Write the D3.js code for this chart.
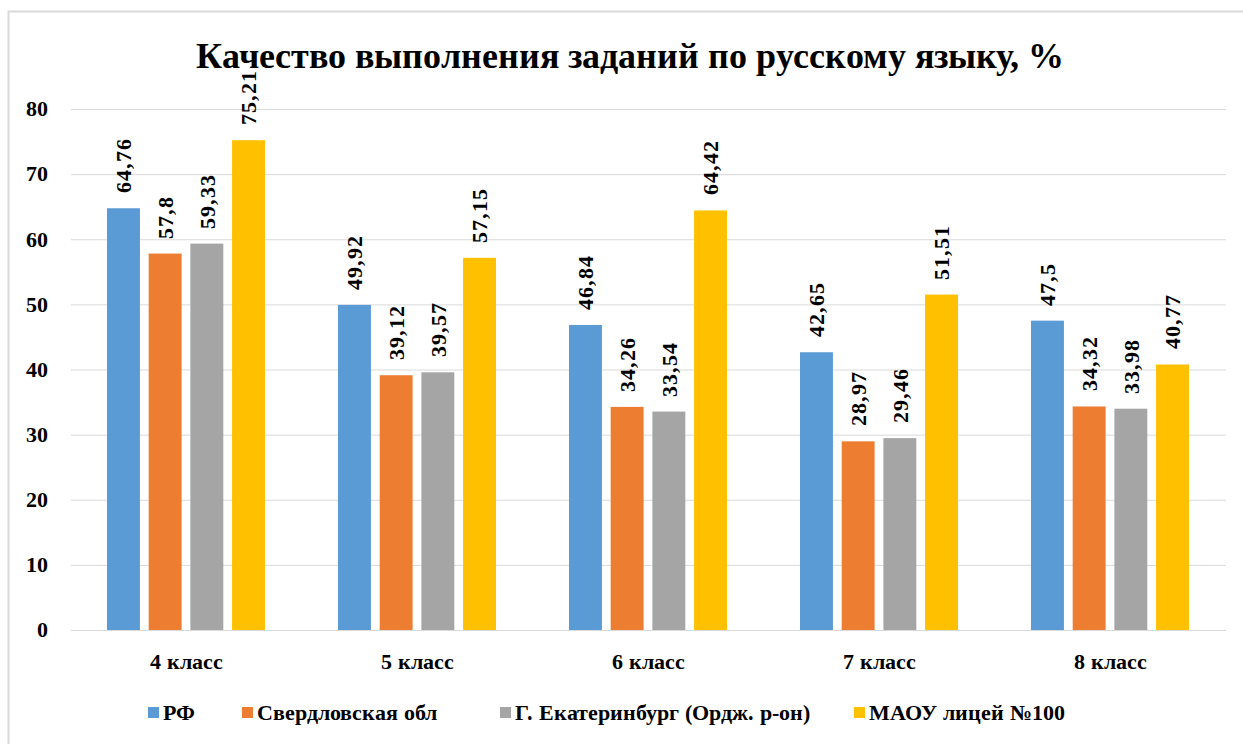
<!DOCTYPE html>
<html>
<head>
<meta charset="utf-8">
<script src="https://cdn.jsdelivr.net/npm/d3@7"></script>
<style>
  @font-face {
    font-family: 'ChartSerif';
    src: local('Liberation Serif Bold'), local('LiberationSerif-Bold'), local('Times New Roman Bold');
    font-weight: bold;
  }
  body { margin: 0; }
</style>
</head>
<body>
<svg id="chart" width="1243" height="744"></svg>
<script>
const categories = ['4 класс', '5 класс', '6 класс', '7 класс', '8 класс']
const seriesNames = ['РФ', 'Свердловская обл', 'Г. Екатеринбург (Ордж. р-он)', 'МАОУ лицей №100']
const rf = [64.76, 49.92, 46.84, 42.65, 47.5]
const sverd = [57.8, 39.12, 34.26, 28.97, 34.32]
const ekb = [59.33, 39.57, 33.54, 29.46, 33.98]
const licey = [75.21, 57.15, 64.42, 51.51, 40.77]
const yTicks = [0, 10, 20, 30, 40, 50, 60, 70, 80]
const colors = ['#5b9bd5', '#ed7d31', '#a5a5a5', '#ffc000']

const seriesValues = [rf, sverd, ekb, licey]
const FONT = 'ChartSerif, Liberation Serif, Times New Roman, Tinos, serif'

const svg = d3.select('#chart').style('display', 'block')

// chart frame
svg.append('rect')
  .attr('x', 8.5).attr('y', 11.5)
  .attr('width', 1260).attr('height', 760)
  .attr('fill', 'none').attr('stroke', '#d9d9d9').attr('stroke-width', 2)

svg.append('text')
  .attr('font-family', FONT).attr('font-weight', 'bold')
  .attr('x', 630).attr('y', 68)
  .attr('text-anchor', 'middle')
  .attr('font-size', 36)
  .text('Качество выполнения заданий по русскому языку, %')

const plotL = 71, plotR = 1226, plotT = 109, plotB = 630

const y = d3.scaleLinear().domain([0, 80]).range([plotB, plotT])
const x0 = d3.scaleBand().domain(categories).range([plotL, plotR])
const x1 = d3.scaleBand().domain(d3.range(seriesNames.length))
  .range([36, 194]).paddingInner(0.21)

// grid
svg.append('g')
  .selectAll('line')
  .data(yTicks)
  .join('line')
    .attr('x1', plotL).attr('x2', plotR)
    .attr('y1', d => y(d) + 0.5).attr('y2', d => y(d) + 0.5)
    .attr('stroke', '#d9d9d9').attr('stroke-width', 1)

// y axis labels
svg.append('g')
  .selectAll('text')
  .data(yTicks)
  .join('text')
    .attr('font-family', FONT).attr('font-weight', 'bold')
    .attr('x', 48).attr('y', d => y(d))
    .attr('dy', '0.33em')
    .attr('text-anchor', 'end')
    .attr('font-size', 22)
    .text(d => d)

const rows = []
categories.forEach((c, i) => {
  seriesValues.forEach((vals, s) => rows.push({ cat: c, s: s, v: vals[i] }))
})

const groups = svg.append('g')
groups.selectAll('rect')
  .data(rows)
  .join('rect')
    .attr('x', d => x0(d.cat) + x1(d.s))
    .attr('y', d => y(d.v))
    .attr('width', x1.bandwidth())
    .attr('height', d => y(0) - y(d.v))
    .attr('fill', d => colors[d.s])

// value labels
groups.selectAll('text')
  .data(rows)
  .join('text')
    .attr('font-family', FONT).attr('font-weight', 'bold')
    .attr('transform', d => 'translate(' + (x0(d.cat) + x1(d.s) + x1.bandwidth() / 2) + ',' + (y(d.v) - 15) + ') rotate(-90)')
    .attr('dy', '0.35em')
    .attr('font-size', 22)
    .attr('letter-spacing', 1)
    .text(d => String(d.v).replace('.', ','))

// x labels
svg.append('g')
  .selectAll('text')
  .data(categories)
  .join('text')
    .attr('font-family', FONT).attr('font-weight', 'bold')
    .attr('x', d => x0(d) + x0.bandwidth() / 2)
    .attr('y', 669)
    .attr('text-anchor', 'middle')
    .attr('font-size', 22)
    .text(d => d)

// legend
const legendX = [148, 242, 500, 854]
const legend = svg.append('g')
  .selectAll('g')
  .data(seriesNames)
  .join('g')
    .attr('transform', (d, i) => 'translate(' + legendX[i] + ',718)')
legend.append('rect')
  .attr('x', 0).attr('y', -11)
  .attr('width', 11).attr('height', 11)
  .attr('fill', (d, i) => colors[i])
legend.append('text')
  .attr('font-family', FONT).attr('font-weight', 'bold')
  .attr('x', 15).attr('y', 2)
  .attr('font-size', 22)
  .text(d => d)
</script>
</body>
</html>
